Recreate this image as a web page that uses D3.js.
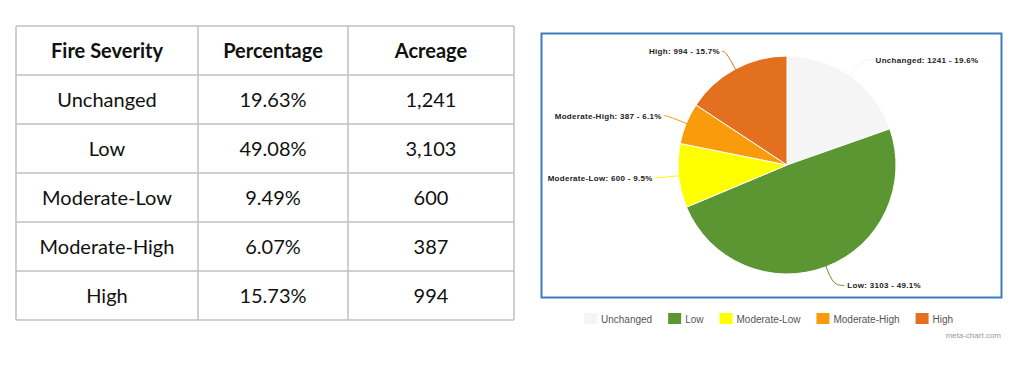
<!DOCTYPE html>
<html>
<head>
<meta charset="utf-8">
<script src="https://cdn.jsdelivr.net/npm/d3@7"></script>
<style>
  body { margin: 0; background: #fff; }
  svg { display: block; }
</style>
</head>
<body>
<div id="chart"></div>
<script>
// data
const severity = ["Unchanged", "Low", "Moderate-Low", "Moderate-High", "High"];
const percentage = [19.63, 49.08, 9.49, 6.07, 15.73];
const acreage = [1241, 3103, 600, 387, 994];
const headers = ["Fire Severity", "Percentage", "Acreage"];
const colors = ["#f5f5f5", "#5b9632", "#ffff00", "#fa9b0b", "#e2701f"];

const width = 1024;
const height = 374;

const svg = d3.create("svg")
  .attr("width", width)
  .attr("height", height)
  .attr("viewBox", [0, 0, width, height]);

// attach now so text can be measured for the legend
document.getElementById("chart").append(svg.node());

// ---- table ----
const colEdges = [16, 198, 348, 514];
const rowScale = d3.scaleBand()
  .domain(d3.range(severity.length + 1))
  .range([26, 320]);

const table = svg.append("g")
  .attr("font-family", "Lato, 'Open Sans', sans-serif")
  .attr("font-size", 20)
  .attr("fill", "#111");

const rows = [headers].concat(severity.map((s, i) => [
  s,
  percentage[i].toFixed(2) + "%",
  d3.format(",")(acreage[i])
]));

// grid lines
table.append("g")
  .attr("stroke", "#c0c0c0")
  .attr("stroke-width", 1.5)
  .selectAll("line")
  .data(d3.range(rows.length + 1))
  .join("line")
  .attr("x1", colEdges[0])
  .attr("x2", colEdges[colEdges.length - 1])
  .attr("y1", i => i < rows.length ? rowScale(i) : rowScale.range()[1])
  .attr("y2", i => i < rows.length ? rowScale(i) : rowScale.range()[1]);

table.append("g")
  .attr("stroke", "#c0c0c0")
  .attr("stroke-width", 1.5)
  .selectAll("line")
  .data(colEdges)
  .join("line")
  .attr("x1", d => d)
  .attr("x2", d => d)
  .attr("y1", rowScale.range()[0])
  .attr("y2", rowScale.range()[1]);

rows.forEach((row, r) => {
  table.append("g")
    .selectAll("text")
    .data(row)
    .join("text")
    .attr("x", (d, c) => (colEdges[c] + colEdges[c + 1]) / 2)
    .attr("y", rowScale(r) + rowScale.bandwidth() / 2)
    .attr("dy", "0.35em")
    .attr("text-anchor", "middle")
    .attr("font-weight", r === 0 ? "bold" : "normal")
    .text(d => d);
});

// ---- pie panel ----
svg.append("rect")
  .attr("x", 541.5)
  .attr("y", 33.5)
  .attr("width", 460)
  .attr("height", 264)
  .attr("fill", "none")
  .attr("stroke", "#3b7dc0")
  .attr("stroke-width", 2);

const cx = 787, cy = 165, radius = 109;
const total = d3.sum(acreage);

const pie = d3.pie().sort(null).value(d => d.value);
const arcs = pie(severity.map((s, i) => ({ name: s, value: acreage[i], color: colors[i] })));

const arc = d3.arc().innerRadius(0).outerRadius(radius);

const pieG = svg.append("g").attr("transform", `translate(${cx},${cy})`);

pieG.append("g")
  .attr("stroke", "#fff")
  .attr("stroke-width", 1)
  .selectAll("path")
  .data(arcs)
  .join("path")
  .attr("fill", d => d.data.color)
  .attr("d", arc);

// leader lines and labels
const bendR = radius + 20;

function pointAt(angle, r) {
  return [Math.sin(angle) * r, -Math.cos(angle) * r];
}

const labels = arcs.map(d => {
  const mid = (d.startAngle + d.endAngle) / 2;
  const right = mid < Math.PI;
  const p0 = pointAt(mid, radius - 1);
  const p1 = pointAt(mid, bendR);
  const gap = right ? 14 : 6;
  const p2 = [p1[0] + (right ? gap - 3 : -gap + 2), p1[1]];
  return { d, right, p0, p1, p2, tx: p1[0] + (right ? gap : -gap), ty: p1[1] };
});

const lineGen = d3.line().curve(d3.curveBasis);

pieG.append("g")
  .attr("fill", "none")
  .selectAll("path")
  .data(labels)
  .join("path")
  .attr("stroke", l => l.d.data.color)
  .attr("stroke-width", 1)
  .attr("d", l => lineGen([l.p0, l.p1, l.p2]));

pieG.append("g")
  .attr("font-family", "'Liberation Sans', Arial, sans-serif")
  .attr("font-size", 8)
  .attr("font-weight", "bold")
  .attr("letter-spacing", 0.3)
  .attr("fill", "#222")
  .selectAll("text")
  .data(labels)
  .join("text")
  .attr("x", l => l.tx)
  .attr("y", l => l.ty)
  .attr("dy", "0.35em")
  .attr("text-anchor", l => l.right ? "start" : "end")
  .text(l => `${l.d.data.name}: ${l.d.data.value} - ${(l.d.data.value / total * 100).toFixed(1)}%`);

// ---- legend ----
const legend = svg.append("g")
  .attr("font-family", "'Liberation Sans', Arial, sans-serif")
  .attr("font-size", 10)
  .attr("fill", "#555");

let lx = 584;
severity.forEach((s, i) => {
  legend.append("rect")
    .attr("x", lx)
    .attr("y", 313)
    .attr("width", 13)
    .attr("height", 11)
    .attr("fill", colors[i]);
  const t = legend.append("text")
    .attr("x", lx + 17)
    .attr("y", 322.5)
    .text(s);
  lx += 17 + t.node().getComputedTextLength() + 16;
});

svg.append("text")
  .attr("x", 1001)
  .attr("y", 338)
  .attr("text-anchor", "end")
  .attr("font-family", "'Liberation Sans', Arial, sans-serif")
  .attr("font-size", 8)
  .attr("fill", "#999")
  .text("meta-chart.com");
</script>
</body>
</html>
